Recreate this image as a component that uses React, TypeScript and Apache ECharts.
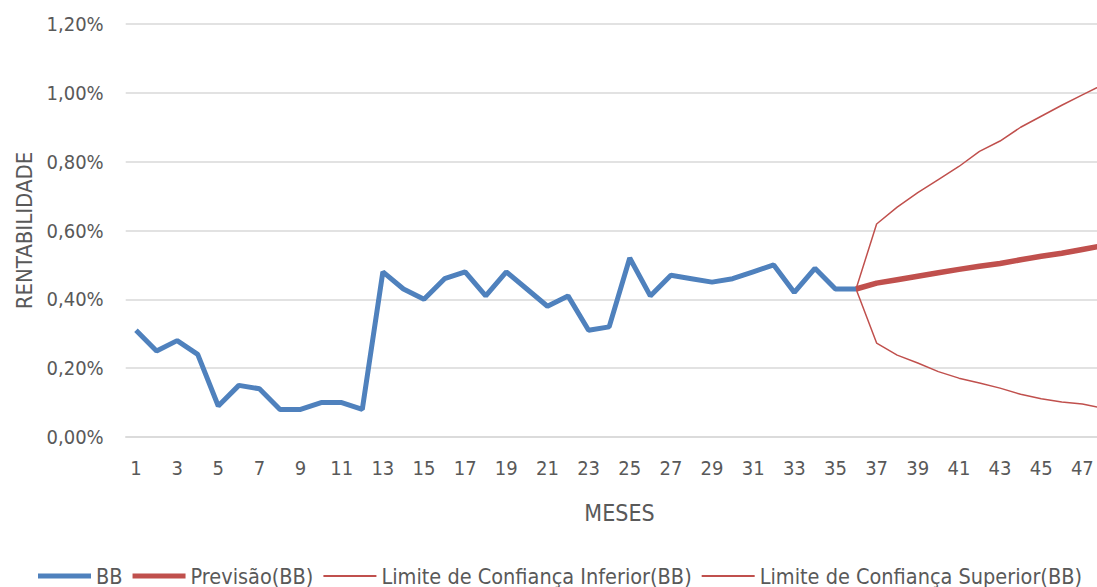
import React, { useEffect, useRef } from "react";
import * as echarts from "echarts";

const months: string[] = Array.from({ length: 48 }, (_, i) => String(i + 1));

const bbValues: number[] = [
  0.31, 0.25, 0.28, 0.24, 0.09, 0.15, 0.14, 0.08, 0.08, 0.10, 0.10, 0.08,
  0.48, 0.43, 0.40, 0.46, 0.48, 0.41, 0.48, 0.43, 0.38, 0.41, 0.31, 0.32,
  0.52, 0.41, 0.47, 0.46, 0.45, 0.46, 0.48, 0.50, 0.42, 0.49, 0.43, 0.43,
];

// forecast, lower and upper bounds for months 36..48
const forecastValues: number[] = [0.43, 0.447, 0.457, 0.467, 0.477, 0.487, 0.496, 0.504, 0.515, 0.525, 0.534, 0.545, 0.556];
const lowerValues: number[] = [0.43, 0.273, 0.238, 0.215, 0.19, 0.171, 0.157, 0.142, 0.124, 0.111, 0.102, 0.096, 0.084];
const upperValues: number[] = [0.43, 0.619, 0.668, 0.71, 0.748, 0.786, 0.83, 0.86, 0.9, 0.932, 0.964, 0.994, 1.024];

const yTicks = { min: 0, max: 1.2, interval: 0.2 };

const seriesNames = ["BB", "Previsão(BB)", "Limite de Confiança Inferior(BB)", "Limite de Confiança Superior(BB)"];

const pad = (vals: number[], start: number): (number | null)[] => {
  const out: (number | null)[] = new Array(months.length).fill(null);
  vals.forEach((v, i) => (out[start + i] = v));
  return out;
};

const FONT = "'DejaVu Sans Condensed', 'Liberation Sans', sans-serif";
const TEXT = "#595959";
const BLUE = "#4F81BD";
const RED = "#C0504D";

const THICK_ICON = "path://M0,0.5 L53,0.5 L53,5.5 L0,5.5 Z";
const THIN_ICON = "path://M0,0 L0.01,0 L0.01,0.01 Z M0,2 L53,2 L53,4 L0,4 Z M52.99,6 L53,6 L53,5.99 Z";

export default function App() {
  const ref = useRef<HTMLDivElement>(null);
  useEffect(() => {
    document.body.style.margin = "0";
    document.body.style.overflow = "hidden";
    if (!ref.current) return;
    const chart = echarts.init(ref.current, null, { renderer: "svg" });
    chart.setOption({
      animation: false,
      textStyle: { fontFamily: FONT, color: TEXT },
      grid: { left: 125.7, top: 24, right: 6.8, bottom: 150 },
      legend: {
        top: 565,
        left: 38,
        padding: 0,
        itemWidth: 53,
        itemHeight: 6,
        itemGap: 10,
        textStyle: { fontFamily: FONT, fontSize: 21.5, color: TEXT },
        data: [
          { name: seriesNames[0], icon: THICK_ICON },
          { name: seriesNames[1], icon: THICK_ICON },
          { name: seriesNames[2], icon: THIN_ICON },
          { name: seriesNames[3], icon: THIN_ICON },
        ],
      },
      xAxis: {
        type: "category",
        data: months,
        boundaryGap: true,
        name: "MESES",
        nameLocation: "middle",
        nameGap: 64,
        nameTextStyle: { fontFamily: FONT, fontSize: 23, color: TEXT },
        axisLine: { lineStyle: { color: "#D9D9D9", width: 1.5 } },
        axisTick: { show: false },
        axisLabel: { interval: 1, margin: 21, fontSize: 20, color: TEXT, fontFamily: FONT },
      },
      yAxis: {
        type: "value",
        min: yTicks.min,
        max: yTicks.max,
        interval: yTicks.interval,
        name: "RENTABILIDADE",
        nameLocation: "middle",
        nameGap: 88,
        nameTextStyle: { fontFamily: FONT, fontSize: 22, color: TEXT },
        axisLine: { show: false },
        axisTick: { show: false },
        splitLine: { lineStyle: { color: "#D9D9D9", width: 1.5 } },
        axisLabel: {
          margin: 22,
          fontSize: 20,
          color: TEXT,
          fontFamily: FONT,
          formatter: (v: number) => v.toFixed(2).replace(".", ",") + "%",
        },
      },
      series: [
        {
          name: seriesNames[0],
          type: "line",
          data: pad(bbValues, 0),
          symbol: "none",
          lineStyle: { color: BLUE, width: 5 },
          itemStyle: { color: BLUE },
          z: 3,
        },
        {
          name: seriesNames[1],
          type: "line",
          data: pad(forecastValues, 35),
          symbol: "none",
          lineStyle: { color: RED, width: 5.5 },
          itemStyle: { color: RED },
          z: 4,
        },
        {
          name: seriesNames[2],
          type: "line",
          data: pad(lowerValues, 35),
          symbol: "none",
          lineStyle: { color: RED, width: 1.5 },
          itemStyle: { color: RED },
          z: 2,
        },
        {
          name: seriesNames[3],
          type: "line",
          data: pad(upperValues, 35),
          symbol: "none",
          lineStyle: { color: RED, width: 1.5 },
          itemStyle: { color: RED },
          z: 2,
        },
      ],
    });
    return () => chart.dispose();
  }, []);
  return (
    <div style={{ width: 1097, height: 587, overflow: "hidden" }}>
      <div ref={ref} style={{ width: 1120, height: 587 }} />
    </div>
  );
}
